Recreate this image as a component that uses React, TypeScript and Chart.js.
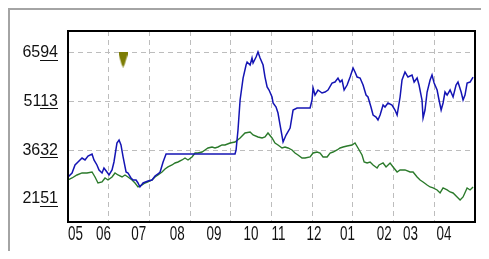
import React, { useEffect, useRef } from "react";
import { Chart, registerables } from "chart.js";

Chart.register(...registerables);

const monthLabels = ["05", "06", "07", "08", "09", "10", "11", "12", "01", "02", "03", "04"];
const monthStartDays = [0, 16, 36, 58, 79, 100, 116, 136, 155, 176, 191, 210];
const yTickValues = [2151, 3632, 5113, 6594];
const totalDays = 232;
const yMin = 1452;
const yMax = 7248;

const blueDays = [
  0, 2.3, 4, 5.7, 8, 9.7, 11.4, 13.7, 14.8, 16.5, 17.7, 19.4, 20.5, 22.2, 23.4, 25.1, 26.2, 27.9, 29.1, 30.2,
  31.4, 33.1, 34.2, 35.9, 37.1, 38.8, 39.9, 41, 42.8, 45.6, 47.9, 49.6, 51.3, 52.5, 54.2, 55.9, 95.2, 95.8,
  96.9, 98.1, 99.8, 101.5, 102.1, 103.8, 104.9, 105.5, 107.2, 108.3, 109.5, 111.2, 112.3, 113.5, 114.6, 116.3,
  116.9, 118.6, 119.7, 120.9, 122.6, 124.3, 126.6, 128.3, 130.6, 138, 139.1, 139.7, 140.8, 142.5, 144.8, 146.5,
  148.2, 150.5, 152.2, 153.9, 155.1, 156.2, 157.4, 159.1, 160.8, 162.5, 163.6, 164.8, 166.5, 168.2, 169.9, 171,
  172.7, 173.9, 175.6, 176.7, 177.9, 179.6, 180.7, 182.4, 184.7, 186.4, 187.6, 189.3, 190.4, 192.1, 193.8, 196.1,
  197.3, 199, 200.1, 201.8, 202.4, 203.5, 204.7, 206.4, 207.5, 208.7, 210.4, 211.5, 212.7, 213.8, 214.9, 216.1,
  217.8, 219.5, 221.2, 222.3, 224.1, 225.2, 226.3, 227.5, 229.2, 230.9,
];
const blueValues = [
  2818, 2940, 3182, 3273, 3394, 3334, 3455, 3516, 3334, 3182, 3031, 2940, 3091, 2970, 2879, 3031, 3273, 3849, 3940, 3789,
  3425, 2970, 2940, 2788, 2727, 2727, 2636, 2515, 2636, 2697, 2727, 2849, 2909, 2970, 3273, 3516, 3516, 3637,
  4244, 5154, 5821, 6215, 6306, 6215, 6428, 6276, 6458, 6610, 6428, 6215, 5851, 5548, 5457, 5245,
  5063, 4941, 4759, 4395, 3880, 4092, 4304, 4850, 4911, 4911, 5154, 5518, 5305, 5457, 5366, 5396,
  5457, 5669, 5700, 5821, 5700, 5760, 5457, 5609, 5851, 6124, 6003, 5851, 5821, 5609, 5305, 5245,
  4941, 4699, 4638, 4547, 4699, 5002, 4941, 5063, 5002, 4850, 4699, 5245, 5760, 6003, 5851, 5912,
  5700, 5821, 5609, 5154, 4608, 4850, 5396, 5760, 5912, 5669, 5457, 5154, 4850, 5063, 5396, 5305,
  5457, 5245, 5609, 5700, 5396, 5154, 5305, 5669, 5700, 5851,
];

const greenDays = [
  0, 2.3, 5.1, 8, 10.8, 13.7, 15.4, 17.1, 19.4, 21.1, 22.8, 25.1, 26.8, 28.5, 30.8, 32.5, 34.2, 36.5, 38.2, 39.9,
  42.2, 43.9, 45.6, 47.9, 49.6, 51.3, 53.6, 55.3, 57, 59.3, 61, 62.7, 65, 66.7, 68.4, 70.7, 72.4, 74.1, 76.4, 78.1,
  79.8, 82.1, 83.8, 85.5, 87.8, 89.5, 92.4, 95.2, 98.1, 100.9, 103.8, 105.5, 108.3, 110.6, 112.3, 114, 116.3, 118,
  119.7, 122, 123.7, 125.4, 127.7, 129.4, 131.1, 133.4, 135.1, 138, 139.7, 142, 143.7, 145.4, 147.7, 149.4, 151.1,
  153.4, 155.1, 156.8, 159.1, 161.9, 163.6, 165.3, 167.6, 168.8, 170.5, 172.2, 173.9, 176.2, 177.3, 179.6, 181.3,
  183.6, 185.3, 187.6, 189.3, 192.1, 195, 196.7, 199, 200.7, 202.4, 204.7, 206.4, 208.1, 210.4, 212.1, 213.8, 216.1,
  217.8, 219.5, 221.8, 223.5, 225.2, 227.5, 229.2, 230.9,
];
const greenValues = [
  2727, 2788, 2879, 2940, 2940, 2970, 2818, 2636, 2667, 2788, 2727, 2818, 2940, 2879, 2818, 2879, 2818, 2727, 2636, 2515,
  2576, 2636, 2667, 2727, 2818, 2879, 2970, 3061, 3122, 3182, 3243, 3273, 3334, 3394, 3334, 3425, 3546, 3546, 3576, 3637,
  3698, 3728, 3698, 3728, 3789, 3789, 3849, 3880, 4001, 4153, 4183, 4092, 4031, 4001, 4031, 4153, 4001, 3849,
  3789, 3698, 3728, 3698, 3637, 3546, 3486, 3394, 3394, 3425, 3546, 3576, 3546, 3425, 3425, 3546, 3576,
  3637, 3698, 3728, 3758, 3789, 3849, 3698, 3486, 3273, 3243, 3273, 3182, 3091, 3182, 3243, 3122,
  3243, 3122, 2970, 3031, 3031, 2970, 2970, 2818, 2727, 2667, 2576, 2515, 2485, 2424, 2333, 2485, 2424,
  2363, 2333, 2212, 2121, 2212, 2485, 2424, 2515,
];

const markerDays = [31.4];
const markerValues = [6382];

const labelFont = { family: "'Liberation Sans', Arial, sans-serif", size: 16 };
const monthFontCss = "21px 'Liberation Sans', Arial, sans-serif";
const monthScaleX = 0.64;

function makeMarker(): HTMLCanvasElement {
  const mk = document.createElement("canvas");
  mk.width = 9;
  mk.height = 16;
  const c = mk.getContext("2d")!;
  c.fillStyle = "#7d7d05";
  c.beginPath();
  c.moveTo(0, 0);
  c.lineTo(9, 0);
  c.lineTo(9, 3);
  c.lineTo(6, 13);
  c.lineTo(4.5, 16);
  c.lineTo(3, 13);
  c.lineTo(0, 3);
  c.closePath();
  c.fill();
  return mk;
}

const decorPlugin = {
  id: "decor",
  beforeDraw(chart: any) {
    const ctx = chart.ctx;
    ctx.save();
    ctx.fillStyle = "#ffffff";
    ctx.fillRect(0, 0, chart.width, chart.height);
    ctx.fillStyle = "#a4a4a4";
    ctx.fillRect(0, 0, chart.width, 2);
    ctx.fillRect(0, 0, 2, chart.height);
    ctx.restore();
  },
  afterDraw(chart: any) {
    const ctx = chart.ctx;
    const a = chart.chartArea;
    ctx.save();
    ctx.strokeStyle = "#000000";
    ctx.lineWidth = 2;
    ctx.strokeRect(a.left, a.top, a.right - a.left, a.bottom - a.top);
    const ys = chart.scales.y;
    ctx.font = `${labelFont.size}px ${labelFont.family}`;
    ctx.fillStyle = "#111111";
    yTickValues.forEach((v) => {
      const py = ys.getPixelForValue(v);
      const text = String(v);
      const right = ys.right - 10;
      const w2 = ctx.measureText(text.slice(-2)).width;
      ctx.fillRect(Math.round(right - w2), Math.round(py + 7), Math.round(w2), 1);
    });
    // month labels, placed by the x scale, drawn in a condensed face
    const xs = chart.scales.x;
    ctx.font = monthFontCss;
    ctx.textAlign = "left";
    ctx.textBaseline = "top";
    monthStartDays.forEach((d, i) => {
      const px = xs.getPixelForValue(d);
      ctx.save();
      ctx.translate(px, xs.top + 2);
      ctx.scale(monthScaleX, 1);
      ctx.fillText(monthLabels[i], 0, 0);
      ctx.restore();
    });
    ctx.restore();
  },
};

export default function App() {
  const ref = useRef<HTMLCanvasElement | null>(null);
  useEffect(() => {
    if (!ref.current) return;
    const blueData = blueDays.map((d, i) => ({ x: d, y: blueValues[i] }));
    const greenData = greenDays.map((d, i) => ({ x: d, y: greenValues[i] }));
    const markerData = markerDays.map((d, i) => ({ x: d, y: markerValues[i] }));
    const gridStep = totalDays / 10;
    const chart = new Chart(ref.current, {
      type: "line",
      data: {
        datasets: [
          {
            data: markerData,
            showLine: false,
            pointStyle: makeMarker() as any,
            pointRadius: 8,
            borderColor: "#7d7d05",
            backgroundColor: "#7d7d05",
          },
          {
            data: blueData,
            borderColor: "#1414b4",
            borderWidth: 1.5,
            pointRadius: 0,
            tension: 0,
            fill: false,
          },
          {
            data: greenData,
            borderColor: "#2b7a2b",
            borderWidth: 1.4,
            pointRadius: 0,
            tension: 0,
            fill: false,
          },
        ],
      },
      options: {
        responsive: false,
        animation: false,
        events: [],
        layout: { padding: { top: 23, right: 14, left: 0, bottom: 0 } },
        plugins: { legend: { display: false }, tooltip: { enabled: false } },
        scales: {
          x: {
            type: "linear",
            position: "bottom",
            min: 0,
            max: totalDays,
            afterBuildTicks: (s: any) => {
              s.ticks = monthStartDays.map((v) => ({ value: v }));
            },
            afterFit: (s: any) => {
              s.height = 29;
            },
            ticks: { display: false },
            grid: { display: false, drawTicks: false },
            border: { display: true, color: "#000000", width: 2 },
          },
          xg: {
            type: "linear",
            position: "top",
            min: 0,
            max: totalDays,
            afterBuildTicks: (s: any) => {
              const arr = [];
              for (let k = 0; k <= 10; k++) arr.push({ value: k * gridStep });
              s.ticks = arr;
            },
            afterFit: (s: any) => {
              s.height = 0;
            },
            ticks: { display: false },
            grid: {
              drawTicks: false,
              color: (c: any) => (c.index === 0 || c.index === 10 ? "rgba(0,0,0,0)" : "#bdbdbd"),
              lineWidth: 1,
            },
            border: { display: false, dash: [5, 4] },
          },
          y: {
            type: "linear",
            position: "left",
            min: yMin,
            max: yMax,
            afterBuildTicks: (s: any) => {
              s.ticks = yTickValues.map((v) => ({ value: v }));
            },
            afterFit: (s: any) => {
              s.width = 60;
            },
            ticks: {
              padding: 10,
              color: "#111111",
              font: labelFont,
              callback: (v: any) => String(v),
            },
            grid: {
              drawTicks: false,
              color: (c: any) => (c.tick && c.tick.value === 2151 ? "rgba(0,0,0,0)" : "#bdbdbd"),
              lineWidth: 1,
            },
            border: { display: true, color: "#000000", width: 2, dash: [5, 4] },
          },
        },
      } as any,
      plugins: [decorPlugin],
    });
    return () => chart.destroy();
  }, []);
  return (
    <div style={{ width: 481, height: 243 }}>
      <canvas ref={ref} width={481} height={243} style={{ display: "block", width: 481, height: 243 }} />
    </div>
  );
}
